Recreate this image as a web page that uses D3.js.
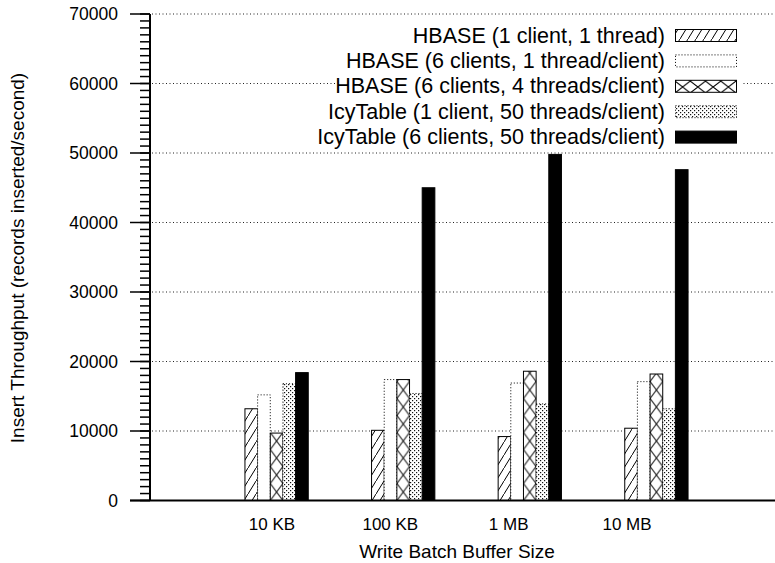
<!DOCTYPE html>
<html>
<head>
<meta charset="utf-8">
<script src="https://cdn.jsdelivr.net/npm/d3@7"></script>
<style>
  body { margin: 0; background: #fff; }
  text { font-family: "Liberation Sans", Arial, Helvetica, sans-serif; fill: #000; }
</style>
</head>
<body>
<svg id="chart" width="775" height="563"></svg>
<script>
// data
const categories = ['10 KB', '100 KB', '1 MB', '10 MB'];
const seriesNames = [
  'HBASE (1 client, 1 thread)',
  'HBASE (6 clients, 1 thread/client)',
  'HBASE (6 clients, 4 threads/client)',
  'IcyTable (1 client, 50 threads/client)',
  'IcyTable (6 clients, 50 threads/client)'
];
const hbaseOne = [13200, 10100, 9200, 10400];
const hbaseSix = [15200, 17400, 16900, 17100];
const hbaseSixFour = [9700, 17400, 18600, 18200];
const icyOne = [16800, 15400, 13900, 13200];
const icySix = [18400, 45000, 49800, 47600];
const yTicks = [0, 10000, 20000, 30000, 40000, 50000, 60000, 70000];

const seriesValues = [hbaseOne, hbaseSix, hbaseSixFour, icyOne, icySix];

const svg = d3.select('#chart');

const margins = { left: 150, top: 14, right: 0, bottom: 62.5 };
const width = 775, height = 563;

// scales
const y = d3.scaleLinear().domain([0, 70000]).range([height - margins.bottom, margins.top]);
const xGroup = d3.scaleLinear().domain([-1, 4]).range([margins.left, 783]);
const xLabel = d3.scaleLinear().domain([0, 3]).range([272, 627]);
const bw = (xGroup(1) - xGroup(0)) / 10;

// patterns
const defs = svg.append('defs');

const hatch = defs.append('pattern')
  .attr('id', 'hatch').attr('patternUnits', 'userSpaceOnUse')
  .attr('width', 8).attr('height', 13);
hatch.append('rect').attr('width', 8).attr('height', 13).attr('fill', '#fff');
hatch.append('path').attr('d', 'M-1,14.6 L9,-1.6').attr('stroke', '#000').attr('stroke-width', 1);

const cross = defs.append('pattern')
  .attr('id', 'cross').attr('patternUnits', 'userSpaceOnUse')
  .attr('x', margins.left + bw / 2).attr('y', y(0))
  .attr('width', bw).attr('height', 17);
cross.append('rect').attr('width', bw).attr('height', 17).attr('fill', '#fff');
cross.append('path').attr('d', `M0,0 L${bw},17 M${bw},0 L0,17`).attr('stroke', '#000').attr('stroke-width', 1);

const crossLegend = defs.append('pattern')
  .attr('id', 'crossLegend').attr('patternUnits', 'userSpaceOnUse')
  .attr('x', 675).attr('y', 81)
  .attr('width', 15.25).attr('height', 12);
crossLegend.append('rect').attr('width', 15.25).attr('height', 12).attr('fill', '#fff');
crossLegend.append('path').attr('d', 'M0,0 L15.25,12 M15.25,0 L0,12').attr('stroke', '#000').attr('stroke-width', 1);

// dotted crosshatch fill
const stipple = defs.append('pattern')
  .attr('id', 'stipple').attr('patternUnits', 'userSpaceOnUse')
  .attr('width', 8).attr('height', 8);
stipple.append('rect').attr('width', 8).attr('height', 8).attr('fill', '#fff');
[[0, 0], [2, 2], [4, 4], [6, 6], [6, 2], [2, 6], [4, 0], [0, 4]].forEach(([px, py]) => {
  stipple.append('rect').attr('x', px).attr('y', py).attr('width', 1.2).attr('height', 1.2).attr('fill', '#111');
});

const styles = [
  { fill: 'url(#hatch)', stroke: '#000', dash: null },
  { fill: '#fff', stroke: '#000', dash: '1 2' },
  { fill: 'url(#cross)', stroke: '#000', dash: null },
  { fill: 'url(#stipple)', stroke: '#000', dash: '1 2' },
  { fill: '#000', stroke: '#000', dash: null }
];

// grid
svg.append('g')
  .selectAll('line')
  .data(yTicks.filter(d => d > 0))
  .enter().append('line')
  .attr('x1', margins.left + 2).attr('x2', width)
  .attr('y1', d => y(d)).attr('y2', d => y(d))
  .attr('stroke', '#222').attr('stroke-width', 1)
  .attr('stroke-dasharray', '1 2.5');

// legend box (covers grid)
const legend = svg.append('g');
legend.append('rect')
  .attr('x', 335).attr('y', 22).attr('width', 408).attr('height', 126)
  .attr('fill', '#fff');

seriesNames.forEach((name, i) => {
  const cy = 35.5 + 25.4 * i;
  legend.append('text')
    .attr('x', 665).attr('y', cy)
    .attr('text-anchor', 'end').attr('dominant-baseline', 'central')
    .style('font-size', '21.5px')
    .text(name);
  legend.append('rect')
    .attr('x', 675.5).attr('y', cy - 6).attr('width', 61).attr('height', 12)
    .attr('fill', i === 2 ? 'url(#crossLegend)' : styles[i].fill)
    .attr('stroke', styles[i].stroke)
    .attr('stroke-width', 1)
    .attr('stroke-dasharray', styles[i].dash);
});

// bars
const barData = [];
seriesValues.forEach((vals, s) => {
  vals.forEach((v, g) => barData.push({ s, g, v }));
});

svg.append('g')
  .selectAll('rect')
  .data(barData)
  .enter().append('rect')
  .attr('x', d => xGroup(d.g) - 2.5 * bw + d.s * bw)
  .attr('y', d => y(d.v))
  .attr('width', bw)
  .attr('height', d => y(0) - y(d.v))
  .attr('fill', d => styles[d.s].fill)
  .attr('stroke', d => styles[d.s].stroke)
  .attr('stroke-width', 1)
  .attr('stroke-dasharray', d => styles[d.s].dash);

// y axis with major + minor ticks
const yMinor = d3.range(0, 70001, 1000);
const yAxisG = svg.append('g');
yAxisG.selectAll('line.minor')
  .data(yMinor)
  .enter().append('line')
  .attr('class', 'minor')
  .attr('x1', margins.left - 10).attr('x2', margins.left)
  .attr('y1', d => y(d)).attr('y2', d => y(d))
  .attr('stroke', '#000').attr('stroke-width', 1.5);
yAxisG.selectAll('line.major')
  .data(yTicks)
  .enter().append('line')
  .attr('class', 'major')
  .attr('x1', margins.left - 20).attr('x2', margins.left)
  .attr('y1', d => y(d)).attr('y2', d => y(d))
  .attr('stroke', '#000').attr('stroke-width', 1.5);
yAxisG.selectAll('text')
  .data(yTicks)
  .enter().append('text')
  .attr('x', 118).attr('y', d => y(d))
  .attr('text-anchor', 'end').attr('dominant-baseline', 'central')
  .style('font-size', '17.5px')
  .text(d => d);
yAxisG.append('line')
  .attr('x1', margins.left).attr('x2', margins.left)
  .attr('y1', y(70000)).attr('y2', y(0))
  .attr('stroke', '#000').attr('stroke-width', 2);

// x axis
svg.append('line')
  .attr('x1', 130).attr('x2', width)
  .attr('y1', y(0)).attr('y2', y(0))
  .attr('stroke', '#000').attr('stroke-width', 2);

svg.append('g')
  .selectAll('text')
  .data(categories)
  .enter().append('text')
  .attr('x', (d, i) => xLabel(i)).attr('y', 524)
  .attr('text-anchor', 'middle').attr('dominant-baseline', 'central')
  .style('font-size', '17px')
  .text(d => d);

// axis titles
svg.append('text')
  .attr('x', 457).attr('y', 551)
  .attr('text-anchor', 'middle').attr('dominant-baseline', 'central')
  .style('font-size', '19px')
  .text('Write Batch Buffer Size');

svg.append('text')
  .attr('transform', 'translate(17, 258) rotate(-90)')
  .attr('text-anchor', 'middle').attr('dominant-baseline', 'central')
  .style('font-size', '19px')
  .text('Insert Throughput (records inserted/second)');
</script>
</body>
</html>
